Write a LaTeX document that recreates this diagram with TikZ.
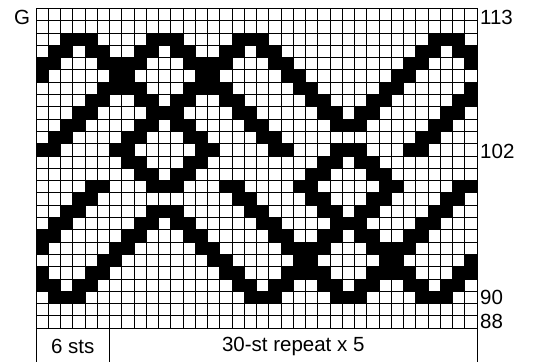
\documentclass[tikz,border=0pt]{standalone}
\usepackage{fontspec}
\setmainfont{Liberation Sans}

% chart geometry (in pt, y grows downwards)
\newcommand{\chartx}{36}
\newcommand{\charty}{8.3}
\newcommand{\cellw}{12.25}
\newcommand{\cellh}{12.3}

% dark stitches of one chart row; the first 6 columns repeat at 30--35
\newcommand{\darkrow}[2]{%
  \foreach \c in {#2} {
    \fill[stitch] ({\chartx+\c*\cellw},{\charty+#1*\cellh}) rectangle ++(\cellw,\cellh);
    \ifnum\c<6
      \fill[stitch] ({\chartx+(\c+30)*\cellw},{\charty+#1*\cellh}) rectangle ++(\cellw,\cellh);
    \fi
  }%
}

\begin{document}
\begin{tikzpicture}[x=1pt, y=-1pt,
  stitch/.style={fill=black},
  gridline/.style={black, line width=0.8pt},
  chartlabel/.style={font=\fontsize{20.5}{23}\selectfont, inner sep=0pt}]

\useasboundingbox (0,0) rectangle (533,362);

% --- Dark stitches (row 0 = round 113, row 25 = round 88) ---
\darkrow{2}{2,3,4,9,10,11,16,17,18}
\darkrow{3}{1,2,4,5,8,9,11,12,15,16,18,19}
\darkrow{4}{0,1,5,6,7,8,12,13,14,15,19,20}
\darkrow{5}{0,6,7,13,14,20,21,29}
\darkrow{6}{5,6,7,8,12,13,14,15,21,22,28,29}
\darkrow{7}{4,5,8,9,11,12,15,16,22,23,27,28}
\darkrow{8}{3,4,9,10,11,16,17,23,24,26,27}
\darkrow{9}{2,3,8,9,11,12,17,18,24,25,26}
\darkrow{10}{1,2,7,8,12,13,18,19}
\darkrow{11}{0,1,6,7,13,14,19,20,24,25,26}
\darkrow{12}{7,8,12,13,23,24,26,27}
\darkrow{13}{8,9,11,12,22,23,27,28}
\darkrow{14}{4,5,9,10,11,15,16,21,22,28,29}
\darkrow{15}{3,4,16,17,22,23,27,28}
\darkrow{16}{2,3,9,10,11,17,18,23,24,26,27}
\darkrow{17}{1,2,8,9,11,12,18,19,24,25,26}
\darkrow{18}{0,1,7,8,12,13,19,20,23,24,26,27}
\darkrow{19}{0,6,7,13,14,20,21,22,23,27,28,29}
\darkrow{20}{5,6,14,15,21,22,28,29}
\darkrow{21}{0,4,5,15,16,20,21,22,23,27,28,29}
\darkrow{22}{0,1,3,4,16,17,19,20,23,24,26,27}
\darkrow{23}{1,2,3,17,18,19,24,25,26}

% --- Grid ---
\foreach \i in {0,...,36}
  \draw[gridline] ({\chartx+\i*\cellw},\charty) -- ++(0,{26*\cellh});
\foreach \j in {0,...,26}
  \draw[gridline] (\chartx,{\charty+\j*\cellh}) -- ++({36*\cellw},0);

% --- Repeat box under the chart ---
\draw[gridline] (\chartx,{\charty+26*\cellh}) -- (\chartx,362);
\draw[gridline] ({\chartx+6*\cellw},{\charty+26*\cellh}) -- ({\chartx+6*\cellw},362);
\draw[gridline] ({\chartx+36*\cellw},{\charty+26*\cellh}) -- ({\chartx+36*\cellw},362);

\node[chartlabel] (edgests) at ({\chartx+3*\cellw},346) {6 sts};
\node[chartlabel] (repeatsts) at ({\chartx+21*\cellw},346) {30-st repeat x 5};

% --- Row labels ---
\node[chartlabel] (side) at (22,17) {G};
\node[chartlabel, anchor=west] (round113) at (480,17) {113};
\node[chartlabel, anchor=west] (round102) at (480,151) {102};
\node[chartlabel, anchor=west] (round90) at (480,297) {90};
\node[chartlabel, anchor=west] (round88) at (480,321) {88};

\end{tikzpicture}
\end{document}
